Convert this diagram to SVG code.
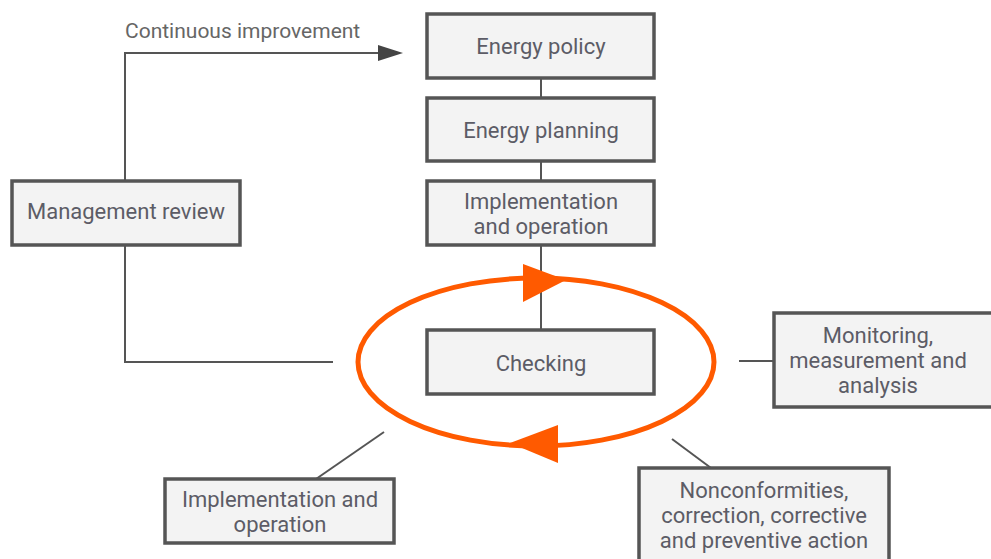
<svg xmlns="http://www.w3.org/2000/svg" width="991" height="559" viewBox="0 0 991 559">
<defs>
<style>
.box{fill:#f3f3f3;stroke:#555;stroke-width:3.5}
.t{font-family:Roboto,"Liberation Sans",sans-serif;font-size:22px;fill:#5c5c66;text-anchor:middle}
.c{fill:none;stroke:#555;stroke-width:2}
</style>
</defs>
<rect width="991" height="559" fill="#fff"/>
<g id="connectors">
<path class="c" d="M541,78 V98 M541,161 V181 M541,245 V330"/>
<path class="c" d="M125,181 V53 H380"/>
<path d="M378,45 L403,53 L378,61 Z" fill="#444"/>
<path class="c" d="M125,245 V362 H333"/>
<path class="c" d="M739,361 H774"/>
<path class="c" d="M384,432 L316,479"/>
<path class="c" d="M672,439 L711,468"/>
<text x="125" y="38" style="font-family:Roboto,'Liberation Sans',sans-serif;font-size:21px;fill:#666">Continuous improvement</text>
</g>
<g id="cycle">
<ellipse cx="536" cy="362" rx="178" ry="84" fill="none" stroke="#ff5a00" stroke-width="5"/>
<path d="M523,264 L566,280 L523,302 Z" fill="#ff5a00"/>
<path d="M558,425 L510,443 L558,463 Z" fill="#ff5a00"/>
</g>
<g id="energy-policy"><rect class="box" x="427" y="14" width="227" height="64"/><text class="t" x="541" y="54">Energy policy</text></g>
<g id="energy-planning"><rect class="box" x="427" y="98" width="227" height="63"/><text class="t" x="541" y="138">Energy planning</text></g>
<g id="impl-op"><rect class="box" x="427" y="181" width="227" height="64"/><text class="t" x="541" y="209">Implementation</text><text class="t" x="541" y="234">and operation</text></g>
<g id="checking"><rect class="box" x="427" y="330" width="227" height="64"/><text class="t" x="541" y="371">Checking</text></g>
<g id="management-review"><rect class="box" x="12" y="181" width="228" height="64"/><text class="t" x="126" y="219">Management review</text></g>
<g id="monitoring"><rect class="box" x="774" y="313" width="220" height="94"/><text class="t" x="878" y="343">Monitoring,</text><text class="t" x="878" y="368">measurement and</text><text class="t" x="878" y="393">analysis</text></g>
<g id="nonconformities"><rect class="box" x="639" y="468" width="250" height="100"/><text class="t" x="764" y="498">Nonconformities,</text><text class="t" x="764" y="523">correction, corrective</text><text class="t" x="764" y="548">and preventive action</text></g>
<g id="impl-op-2"><rect class="box" x="165" y="479" width="229" height="64"/><text class="t" x="280" y="507">Implementation and</text><text class="t" x="280" y="532">operation</text></g>
</svg>
